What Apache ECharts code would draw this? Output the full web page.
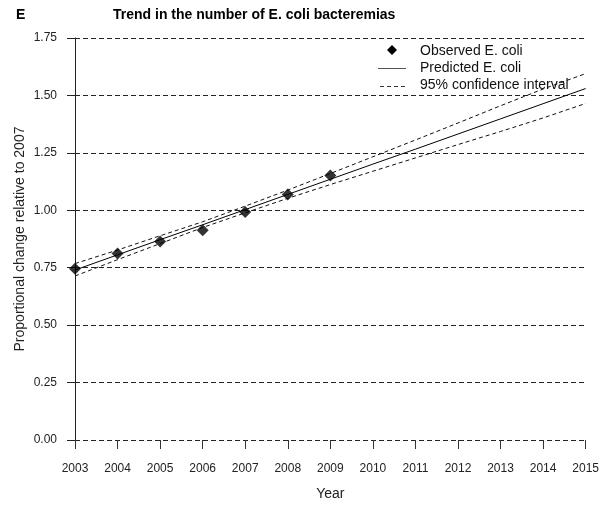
<!DOCTYPE html>
<html>
<head>
<meta charset="utf-8">
<script src="https://cdn.jsdelivr.net/npm/echarts@6/dist/echarts.min.js"></script>
<style>
  html, body { margin: 0; padding: 0; background: #fff; }
  #chart { width: 602px; height: 506px; }
</style>
</head>
<body>
<div id="chart"></div>
<script>
// Years on the x axis
var years = [2003, 2004, 2005, 2006, 2007, 2008, 2009, 2010, 2011, 2012, 2013, 2014, 2015];
// Observed E. coli bacteremias, relative to 2007
var observedYears = [2003, 2004, 2005, 2006, 2007, 2008, 2009];
var observed = [0.745, 0.812, 0.864, 0.913, 0.993, 1.069, 1.151];
// Fitted trend and its 95% confidence band
var predicted = [0.740, 0.806, 0.872, 0.937, 1.003, 1.069, 1.135, 1.201, 1.266, 1.332, 1.398, 1.464, 1.530];
var upper = [0.768, 0.827, 0.889, 0.950, 1.018, 1.088, 1.160, 1.233, 1.306, 1.380, 1.455, 1.528, 1.595];
var lower = [0.714, 0.785, 0.855, 0.925, 0.989, 1.052, 1.112, 1.170, 1.228, 1.286, 1.343, 1.402, 1.465];

function pairs(xs, ys) {
  return xs.map(function (x, i) { return [x, ys[i]]; });
}

var FONT = 'Liberation Sans, Arial, sans-serif';
var chart = echarts.init(document.getElementById('chart'), null, { renderer: 'canvas' });

chart.setOption({
  animation: false,
  backgroundColor: '#fff',
  textStyle: { fontFamily: FONT },
  grid: { left: 75, right: 13, top: 38, bottom: 63 },
  xAxis: {
    type: 'value',
    min: 2003, max: 2015, interval: 1,
    name: 'Year',
    nameLocation: 'middle',
    nameGap: 47,
    nameMoveOverlap: false,
    nameTextStyle: { color: '#222', fontSize: 14, fontFamily: FONT },
    axisLine: { show: false },
    axisTick: { show: true, length: 9, lineStyle: { color: '#333', width: 1 } },
    axisLabel: { color: '#222', fontSize: 12, margin: 23, fontFamily: FONT,
      formatter: function (v) { return String(v); } },
    splitLine: { show: false }
  },
  yAxis: {
    type: 'value',
    min: 0, max: 1.75, interval: 0.25,
    name: 'Proportional change relative to 2007',
    nameLocation: 'middle',
    nameGap: 48,
    nameMoveOverlap: false,
    nameTextStyle: { color: '#222', fontSize: 14, fontFamily: FONT },
    axisLine: { show: true, lineStyle: { color: '#222', width: 1 } },
    axisTick: { show: true, length: 8, lineStyle: { color: '#222', width: 1 } },
    axisLabel: { color: '#222', fontSize: 12, margin: 18, fontFamily: FONT,
      formatter: function (v) { return v.toFixed(2); } },
    splitLine: { show: true, lineStyle: { color: '#222', width: 1, type: [5, 3] } }
  },
  title: {
    text: 'Trend in the number of E. coli bacteremias',
    left: 108, top: 3,
    textStyle: { fontSize: 14, fontWeight: 'bold', color: '#000', fontFamily: FONT }
  },
  graphic: [
    { type: 'text', left: 16, top: 8,
      style: { text: 'E', font: 'bold 14px ' + FONT, fill: '#000' } },
    // legend
    { type: 'polygon', shape: { points: [[392, 45], [397, 50], [392, 55], [387, 50]] },
      style: { fill: '#000' } },
    { type: 'text', left: 420, top: 44,
      style: { text: 'Observed E. coli', font: '14px ' + FONT, fill: '#111' } },
    { type: 'line', shape: { x1: 378, y1: 68.5, x2: 406, y2: 68.5 },
      style: { stroke: '#555', lineWidth: 1 } },
    { type: 'text', left: 420, top: 61,
      style: { text: 'Predicted E. coli', font: '14px ' + FONT, fill: '#111' } },
    { type: 'line', shape: { x1: 380, y1: 86.5, x2: 406, y2: 86.5 },
      style: { stroke: '#333', lineWidth: 1, lineDash: [4, 3] } },
    { type: 'text', left: 420, top: 78,
      style: { text: '95% confidence interval', font: '14px ' + FONT, fill: '#111' } }
  ],
  series: [
    { name: 'Upper 95% CI', type: 'line', data: pairs(years, upper), symbol: 'none',
      lineStyle: { color: '#111', width: 1, type: [4, 3] }, z: 3 },
    { name: 'Lower 95% CI', type: 'line', data: pairs(years, lower), symbol: 'none',
      lineStyle: { color: '#111', width: 1, type: [4, 3] }, z: 3 },
    { name: 'Predicted E. coli', type: 'line', data: pairs(years, predicted), symbol: 'none',
      lineStyle: { color: '#000', width: 1 }, z: 4 },
    { name: 'Observed E. coli', type: 'scatter', data: pairs(observedYears, observed),
      symbol: 'diamond', symbolSize: 12, itemStyle: { color: '#000' }, z: 5 }
  ]
});
</script>
</body>
</html>
